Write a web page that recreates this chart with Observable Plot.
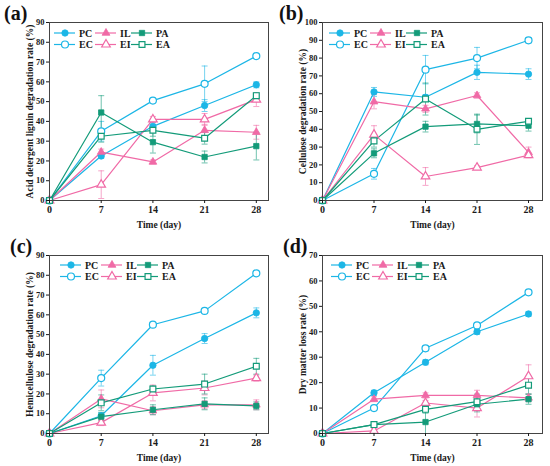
<!DOCTYPE html>
<html><head><meta charset="utf-8">
<script src="https://cdn.jsdelivr.net/npm/d3@7"></script>
<script src="https://cdn.jsdelivr.net/npm/@observablehq/plot@0.6"></script>
<style>
body{margin:0;background:#fff;}
#grid{position:relative;width:550px;height:466px;overflow:hidden;}
.panel{position:absolute;width:275px;height:233px;}
.panel svg{position:absolute;left:0;top:0;}
.panel svg text{font-family:"Liberation Serif",serif;}
</style></head><body><div id="grid"></div>
<script>
const days = [0, 7, 14, 21, 28];
const seriesNames = ["PC", "EC", "IL", "EI", "PA", "EA"];
const legendRows = [["PC", "IL", "PA"], ["EC", "EI", "EA"]];

// (a) Acid detergent lignin degradation rate, order PC, EC, IL, EI, PA, EA
const ligninMean = [
  [0, 22.5, 37.5, 48, 58.5],
  [0, 35, 50.5, 59, 73],
  [0, 24.5, 19.5, 35.5, 34.5],
  [0, 8, 41, 41, 51],
  [0, 44.5, 29.5, 22, 27.5],
  [0, 32.5, 35.5, 31.5, 53]
];
const ligninErr = [
  [0, 1.2, 2, 3, 1.5],
  [0, 5, 1, 9, 1],
  [0, 1.5, 1, 3, 3.5],
  [0, 7, 1.5, 3, 3.5],
  [0, 8.5, 5.5, 3, 7],
  [0, 3, 3, 3, 1.5]
];
// (b) Cellulose degradation rate
const celluloseMean = [
  [0, 61, 58, 72, 71],
  [0, 15, 73.5, 80, 90],
  [0, 55.5, 51.5, 59, 27],
  [0, 37, 13.5, 18.5, 25.5],
  [0, 26.5, 41.5, 43, 42],
  [0, 33.5, 57, 40, 44.5]
];
const celluloseErr = [
  [0, 2.5, 1.5, 4, 3],
  [0, 3, 8, 6, 1.5],
  [0, 4, 2, 1.5, 3],
  [0, 5, 5, 1, 1],
  [0, 2.5, 3, 5, 3],
  [0, 3.5, 9, 8.5, 1.5]
];
// (c) Hemicellulose degradation rate
const hemiMean = [
  [0, 9, 34.5, 48, 61],
  [0, 28, 55, 62, 81],
  [0, 17.5, 11.5, 14.5, 14.5],
  [0, 5.5, 20.5, 23, 28],
  [0, 8.5, 12, 15, 14],
  [0, 15.5, 22.5, 25, 34]
];
const hemiErr = [
  [0, 1.5, 5, 2.5, 2.5],
  [0, 4, 1, 1, 1],
  [0, 4.5, 2, 2, 2.5],
  [0, 1.5, 4, 3.5, 1.5],
  [0, 2, 2.5, 3, 2],
  [0, 4, 1.5, 5, 4]
];
// (d) Dry matter loss rate
const dryMean = [
  [0, 16, 28, 40, 47],
  [0, 10, 33.5, 42.5, 55.5],
  [0, 13.5, 15, 15, 14],
  [0, 1, 12, 10, 22.5],
  [0, 3.5, 4.5, 11.5, 13.5],
  [0, 3.5, 9.5, 12.5, 19]
];
const dryErr = [
  [0, 1, 1, 1, 1],
  [0, 1, 1, 1, 0.5],
  [0, 1, 1, 2, 1.5],
  [0, 1, 1, 3.5, 4.5],
  [0, 1, 4.5, 3, 2],
  [0, 1, 1.5, 3, 3.5]
];

const colors = {PC: "#1cb6e6", EC: "#1cb6e6", IL: "#f06aa6", EI: "#f06aa6", PA: "#139b79", EA: "#139b79"};
const symbols = {PC: "circle", EC: "circle", IL: "triangle", EI: "triangle", PA: "square", EA: "square"};
const radii = {circle: 3.2, triangle: 2.9, square: 3.0};
const openSeries = new Set(["EC", "EI", "EA"]);

const panels = [
  {label: "(a)", left: 0, top: 0, ml: 49, mr: 7, xmax: 29.65, ymax: 90, ylabel: "Acid detergent lignin degradation rate (%)", mean: ligninMean, err: ligninErr, lx: 54, ly: 33, labx: 4},
  {label: "(b)", left: 275, top: 0, ml: 47, mr: 8, xmax: 29.9, ymax: 100, ylabel: "Cellulose degradation rate (%)", mean: celluloseMean, err: celluloseErr, lx: 54, ly: 33, labx: 4},
  {label: "(c)", left: 0, top: 233, ml: 49, mr: 7, xmax: 29.65, ymax: 90, ylabel: "Hemicellulose degradation rate (%)", mean: hemiMean, err: hemiErr, lx: 60, ly: 32, labx: 10},
  {label: "(d)", left: 275, top: 233, ml: 47, mr: 8, xmax: 29.9, ymax: 70, ylabel: "Dry matter loss rate (%)", mean: dryMean, err: dryErr, lx: 56, ly: 32, labx: 8}
];

const capSymbol = {draw(ctx) { ctx.moveTo(-3, 0); ctx.lineTo(3, 0); }};
const font = "Liberation Serif";
const grid = document.getElementById("grid");

for (const p of panels) {
  const rows = [];
  seriesNames.forEach((s, i) => days.forEach((d, j) => rows.push({series: s, day: d, v: p.mean[i][j], e: p.err[i][j]})));
  const marks = [];
  for (const s of seriesNames) {
    const data = rows.filter(r => r.series === s);
    marks.push(Plot.line(data, {x: "day", y: "v", stroke: colors[s], strokeWidth: 1.2}));
  }
  for (const s of seriesNames) {
    const data = rows.filter(r => r.series === s && r.e > 0);
    const c = colors[s];
    marks.push(Plot.ruleX(data, {x: "day", y1: r => r.v - r.e, y2: r => r.v + r.e, stroke: c, strokeOpacity: 0.6, strokeWidth: 1}));
    marks.push(Plot.dot(data, {x: "day", y: r => r.v - r.e, symbol: capSymbol, stroke: c, strokeOpacity: 0.6, fill: "none", strokeWidth: 1}));
    marks.push(Plot.dot(data, {x: "day", y: r => r.v + r.e, symbol: capSymbol, stroke: c, strokeOpacity: 0.6, fill: "none", strokeWidth: 1}));
  }
  for (const s of seriesNames) {
    const data = rows.filter(r => r.series === s);
    const open = openSeries.has(s);
    marks.push(Plot.dot(data, {x: "day", y: "v", symbol: symbols[s], r: radii[symbols[s]] + (open ? 0.3 : 0),
      fill: open ? "white" : colors[s], stroke: colors[s], strokeWidth: open ? 1.2 : 0.8}));
  }
  marks.push(Plot.frame({stroke: "#444", strokeWidth: 1}));
  marks.push(Plot.axisX({ticks: days, tickSize: 3, tickPadding: 2, tickFormat: d => d, label: null, fontWeight: "bold", fontSize: 10}));
  marks.push(Plot.axisY({ticks: d3.range(0, p.ymax + 1, 10), tickSize: 3, tickPadding: 2, label: null, fontWeight: "bold", fontSize: 8.5}));
  marks.push(Plot.text([p.ylabel], {text: d => d, frameAnchor: "left", textAnchor: "middle", rotate: -90, dx: -20, fontWeight: "bold", fontSize: 9.5}));
  marks.push(Plot.text(["Time (day)"], {text: d => d, frameAnchor: "bottom", dy: 27, fontWeight: "bold", fontSize: 9.5}));

  const svg = Plot.plot({
    width: 275, height: 233,
    marginLeft: p.ml, marginRight: p.mr, marginTop: 22, marginBottom: 33,
    x: {domain: [0, p.xmax]},
    y: {domain: [0, p.ymax]},
    style: {fontFamily: font, fontSize: "10px", color: "#1a1a1a", background: "white", overflow: "visible"},
    marks
  });

  const div = document.createElement("div");
  div.className = "panel";
  div.style.left = p.left + "px";
  div.style.top = p.top + "px";
  div.appendChild(svg);

  // overlay: panel label and legend
  const ov = d3.create("svg").attr("width", 275).attr("height", 233)
    .style("font-family", font).style("pointer-events", "none");
  ov.append("text").attr("x", p.labx).attr("y", 20).attr("font-size", 20).attr("font-weight", "bold")
    .attr("fill", "#111").text(p.label);
  const colX = [0, 41, 77];
  legendRows.forEach((row, ri) => row.forEach((s, ci) => {
    const x0 = p.lx + colX[ci], y0 = p.ly + ri * 11.5;
    const g = ov.append("g");
    g.append("line").attr("x1", x0).attr("x2", x0 + 21).attr("y1", y0).attr("y2", y0)
      .attr("stroke", colors[s]).attr("stroke-width", 1.2);
    const rr = radii[symbols[s]] + (openSeries.has(s) ? 0.3 : 0);
    const type = symbols[s] === "circle" ? d3.symbolCircle : symbols[s] === "triangle" ? d3.symbolTriangle : d3.symbolSquare;
    const open = openSeries.has(s);
    g.append("path").attr("transform", `translate(${x0 + 11},${y0})`)
      .attr("d", d3.symbol().type(type).size(Math.PI * rr * rr)())
      .attr("fill", open ? "white" : colors[s]).attr("stroke", colors[s]).attr("stroke-width", open ? 1.2 : 0.8);
    g.append("text").attr("x", x0 + 25).attr("y", y0).attr("dy", "0.35em")
      .attr("font-size", 10).attr("font-weight", "bold").attr("fill", "#1a1a1a").text(s);
  }));
  div.appendChild(ov.node());
  grid.appendChild(div);
}
</script></body></html>
